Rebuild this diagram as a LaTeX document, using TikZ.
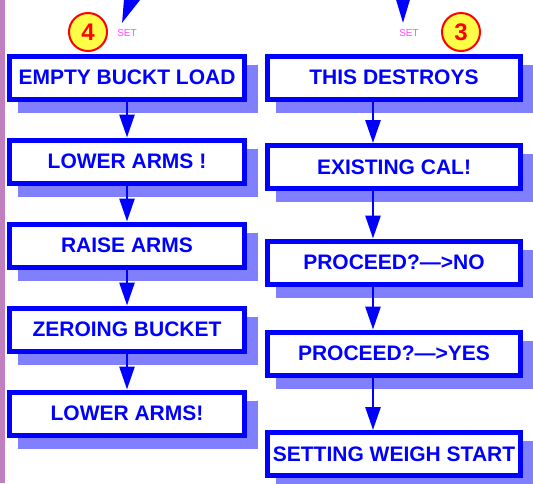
\documentclass[tikz,border=0pt]{standalone}
\usepackage{fontspec}
\setmainfont{Liberation Sans}
\usetikzlibrary{arrows.meta,backgrounds,positioning}

\definecolor{stepblue}{RGB}{0,0,255}
\definecolor{shadeblue}{RGB}{128,128,255}
\definecolor{marginpurple}{RGB}{192,128,192}
\definecolor{setpink}{RGB}{255,72,255}
\definecolor{badgeyellow}{RGB}{255,255,72}
\newcommand{\leftx}{127}
\newcommand{\rightx}{394}
\newcommand{\shadowshift}{11}

\tikzset{
  stepbox/.style={draw=stepblue, line width=5pt, fill=white, text=stepblue,
    inner sep=0pt, minimum height=43pt,
    font=\fontsize{21}{25}\selectfont\bfseries},
  leftbox/.style={stepbox, minimum width=235pt},
  rightbox/.style={stepbox, minimum width=253pt},
  flow/.style={draw=stepblue, line width=2.7pt, -{Triangle[width=15pt,length=23pt]}},
  entry/.style={draw=stepblue, line width=2.7pt, -{Triangle[width=16pt,length=28pt]}},
  badge/.style={circle, draw=red, line width=2pt, fill=badgeyellow, text=red,
    minimum size=38pt, inner sep=0pt, font=\fontsize{24}{24}\selectfont\bfseries},
  setlabel/.style={text=setpink, inner sep=0pt, font=\fontsize{10}{12}\selectfont},
  shade/.style={fill=shadeblue}
}

\begin{document}
\begin{tikzpicture}[x=1pt,y=-1pt]
\useasboundingbox (0,0) rectangle (533,483);

%% Margin bar on the left edge
\fill[marginpurple] (0,0) rectangle (5,483);

%% Left column: the steps of set 4
\node[leftbox] (empty) at (\leftx,77.5) {EMPTY BUCKT LOAD};
\node[leftbox, below=36pt of empty] (lower1) {LOWER ARMS !};
\node[leftbox, below=36pt of lower1] (raise) {RAISE ARMS};
\node[leftbox, below=36pt of raise] (zeroing) {ZEROING BUCKET};
\node[leftbox, below=36pt of zeroing] (lower2) {LOWER ARMS!};

%% Right column: the steps of set 3
\node[rightbox] (destroys) at (\rightx,77.5) {THIS DESTROYS};
\node[rightbox] (existing) at (\rightx,167) {EXISTING CAL!};
\node[rightbox] (procno) at (\rightx,262.5) {PROCEED?—>NO};
\node[rightbox] (procyes) at (\rightx,353.5) {PROCEED?—>YES};
\node[rightbox] (weigh) at (\rightx,454) {SETTING WEIGH START};

%% Shadows behind every box
\begin{scope}[on background layer]
  \foreach \boxname in {empty,lower1,raise,zeroing,lower2,destroys,existing,procno,procyes,weigh}
    \fill[shade] ([shift={(\shadowshift,\shadowshift)}]\boxname.north west)
      rectangle ([shift={(\shadowshift,\shadowshift)}]\boxname.south east);
\end{scope}

%% Badges and SET labels
\node[badge] (badge4) at (88,32) {4};
\node[setlabel] (set4) at (127,33) {SET};
\node[badge] (badge3) at (461,32) {3};
\node[setlabel] (set3) at (409,33) {SET};

%% Arrows coming in from above
\coordinate (in4) at (144,-33);
\coordinate (tip4) at (122,23);
\draw[entry] (in4) -- (tip4);
\coordinate (in3) at (403,-40);
\coordinate (tip3) at (403,23);
\draw[entry] (in3) -- (tip3);

%% Left column arrows
\draw[flow] (empty) -- (lower1);
\draw[flow] (lower1) -- (raise);
\draw[flow] (raise) -- (zeroing);
\draw[flow] (zeroing) -- (lower2);

%% Right column arrows, left of centre
\draw[flow] ([xshift=-21pt]destroys.south) -- ([xshift=-21pt]existing.north);
\draw[flow] ([xshift=-21pt]existing.south) -- ([xshift=-21pt]procno.north);
\draw[flow] ([xshift=-21pt]procno.south) -- ([xshift=-21pt]procyes.north);
\draw[flow] ([xshift=-21pt]procyes.south) -- ([xshift=-21pt]weigh.north);

\end{tikzpicture}
\end{document}
